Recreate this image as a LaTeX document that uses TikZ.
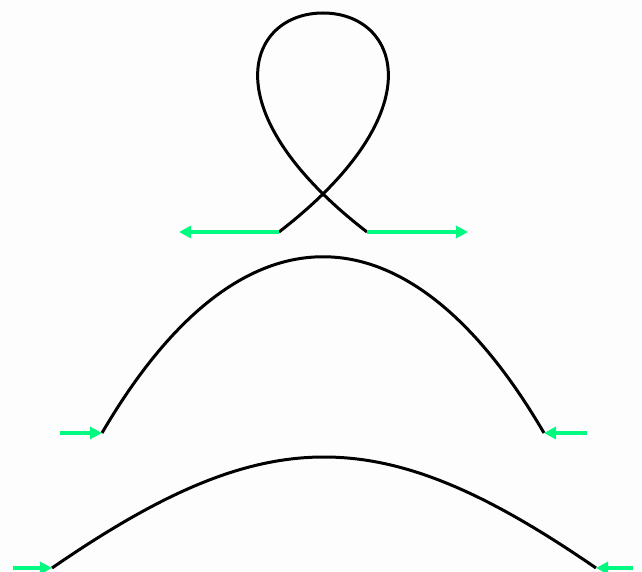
\documentclass[tikz,border=0pt]{standalone}
\usetikzlibrary{arrows.meta}
\definecolor{arrowgreen}{RGB}{0,250,128}
\definecolor{bgcol}{RGB}{253,253,253}
\begin{document}
\begin{tikzpicture}[x=1pt,y=-1pt,
  curve/.style={line width=3pt, black},
  tangent/.style={line width=4pt, arrowgreen, -{Triangle[length=12pt,width=12pt]}}]
\fill[bgcol] (0,0) rectangle (642,572);
\useasboundingbox (0,0) rectangle (642,572);
% loop
\coordinate (ls) at (279,232);
\coordinate (lt) at (323,13);
\coordinate (le) at (367,232);
\coordinate (lsa) at (179,232);
\coordinate (lea) at (468,232);
\draw[curve] (ls) .. controls (437,110) and (398,13) .. (lt)
                  .. controls (248,13) and (209,110) .. (le);
\draw[tangent] (ls) -- (lsa);
\draw[tangent] (le) -- (lea);
% middle arch
\coordinate (ms) at (102,433);
\coordinate (me) at (544,433);
\coordinate (msa) at (60,433);
\coordinate (mea) at (587,433);
\draw[curve] (ms) .. controls (239,198) and (407,198) .. (me);
\draw[tangent] (msa) -- (ms);
\draw[tangent] (mea) -- (me);
% bottom arch
\coordinate (bs) at (52,568);
\coordinate (be) at (596,568);
\coordinate (bsa) at (13,568);
\coordinate (bea) at (633,568);
\draw[curve] (bs) .. controls (267,420) and (381,420) .. (be);
\draw[tangent] (bsa) -- (bs);
\draw[tangent] (bea) -- (be);
\end{tikzpicture}
\end{document}
